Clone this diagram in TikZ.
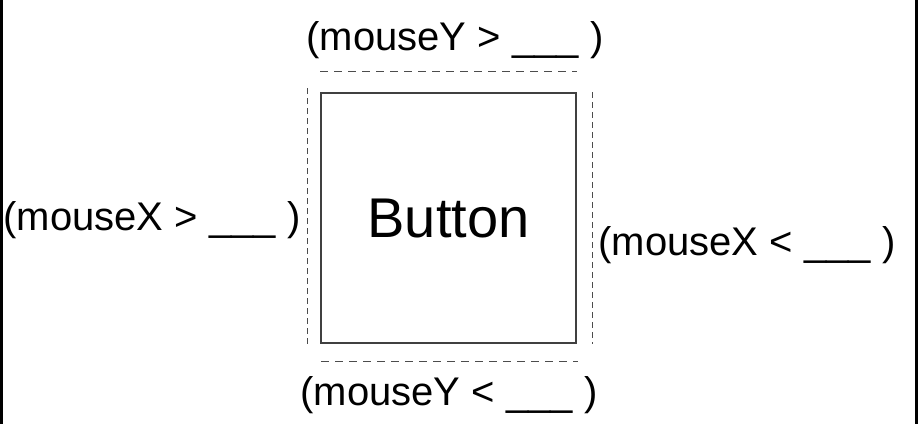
\documentclass[tikz,border=0pt]{standalone}
\usepackage{fontspec}
\setmainfont{Liberation Sans}
\usetikzlibrary{positioning}

\begin{document}
\begin{tikzpicture}[x=1pt,y=-1pt]
  \tikzstyle{guard}=[inner sep=0pt,anchor=base,font=\fontsize{40}{48}\selectfont]
  \tikzstyle{edge}=[draw=black!70,line width=1.5pt,dash pattern=on 8pt off 6pt]
  \tikzstyle{side}=[draw=black!70,line width=1.5pt,dash pattern=on 6pt off 4pt]

  \useasboundingbox (0,0) rectangle (918,424);
  \fill (0,0) rectangle (3,424);
  \fill (915,0) rectangle (918,424);

  \node[draw=black!75,line width=1.4pt,minimum width=255pt,minimum height=250pt,
        inner sep=0pt] (button) at (448.5,218) {};
  \node[guard,font=\fontsize{56}{64}\selectfont] (button-text) at (448.5,237) {Button};

  \foreach \name/\x/\y/\axis/\op in {top/455/50/Y/>, bottom/449/405/Y/<,
                                     left/152/230/X/>, right/747/255/X/<}
    \node[guard] (mouse-\name) at (\x,\y) {(mouse\axis{} \op{} \_\_\_ )};

  \draw[edge] ([yshift=21pt]button.north west) -- ([yshift=21pt]button.north east);
  \draw[edge] ([xshift=1pt,yshift=-18pt]button.south west)
           -- ([xshift=1pt,yshift=-18pt]button.south east);
  \draw[side] ([xshift=-13pt,yshift=4pt]button.north west) -- ([xshift=-13pt]button.south west);
  \draw[side] ([xshift=16pt]button.north east) -- ([xshift=16pt]button.south east);
\end{tikzpicture}
\end{document}
